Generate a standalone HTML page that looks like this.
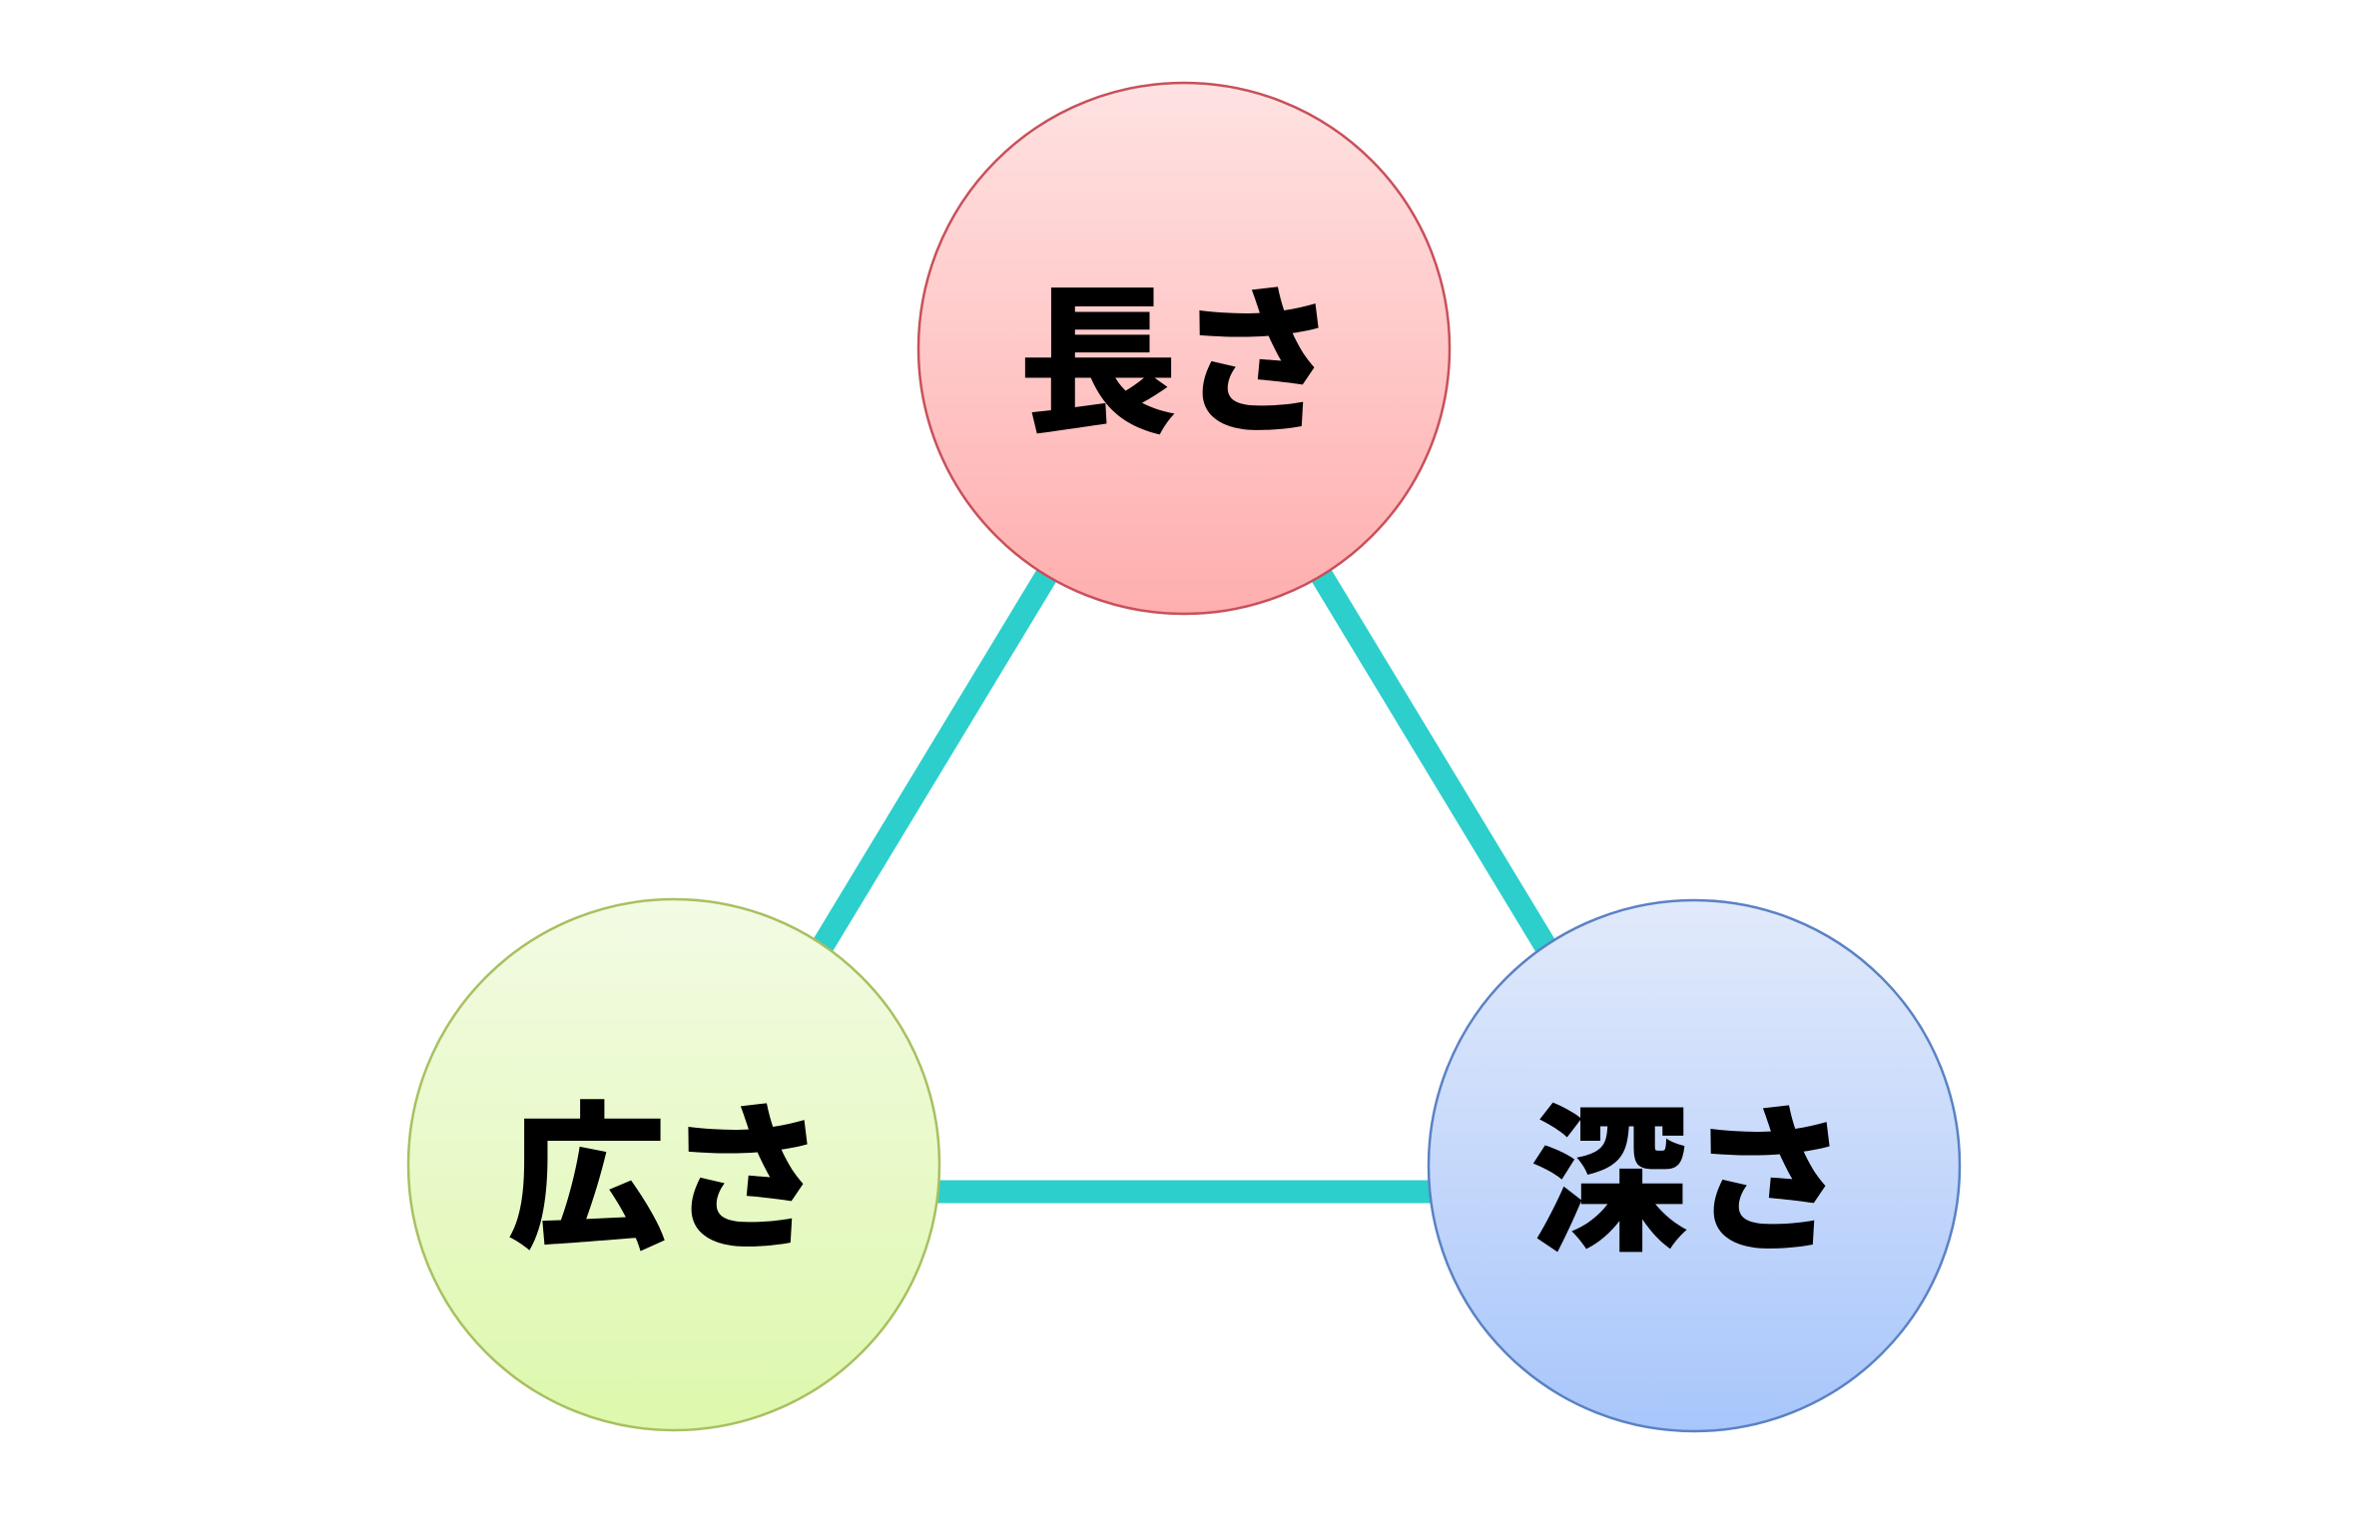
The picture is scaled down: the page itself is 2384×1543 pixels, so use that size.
<!DOCTYPE html>
<html><head><meta charset="utf-8"><style>
html,body{margin:0;padding:0;background:#fff;}
svg{display:block}
text{font-family:"Liberation Sans","Noto Sans CJK JP",sans-serif;font-weight:900;font-size:160px;fill:#000;}
</style></head><body>
<svg width="2384" height="1543" viewBox="0 0 2384 1543">
<defs>
<linearGradient id="r" x1="0" y1="0" x2="0" y2="1"><stop offset="0" stop-color="#ffe2e2"/><stop offset="1" stop-color="#ffaeae"/></linearGradient>
<linearGradient id="g" x1="0" y1="0" x2="0" y2="1"><stop offset="0" stop-color="#f3fbe4"/><stop offset="1" stop-color="#ddf8ac"/></linearGradient>
<linearGradient id="b" x1="0" y1="0" x2="0" y2="1"><stop offset="0" stop-color="#e2eafb"/><stop offset="1" stop-color="#a8c6fb"/></linearGradient>
</defs>
<g stroke="#2ccfcb" stroke-width="23">
<line x1="1186" y1="349" x2="675" y2="1194"/>
<line x1="1186" y1="349" x2="1697" y2="1194"/>
<line x1="675" y1="1194" x2="1697" y2="1194"/>
</g>
<circle cx="1186" cy="349" r="266" fill="url(#r)" stroke="#c8505a" stroke-width="2.5"/>
<circle cx="675" cy="1167" r="266" fill="url(#g)" stroke="#a8c060" stroke-width="2.5"/>
<circle cx="1697" cy="1168" r="266" fill="url(#b)" stroke="#5a82c4" stroke-width="2.5"/>
<text x="1180" y="420" text-anchor="middle">長さ</text>
<text x="668" y="1238" text-anchor="middle">広さ</text>
<text x="1692" y="1240" text-anchor="middle">深さ</text>
</svg>
</body></html>
